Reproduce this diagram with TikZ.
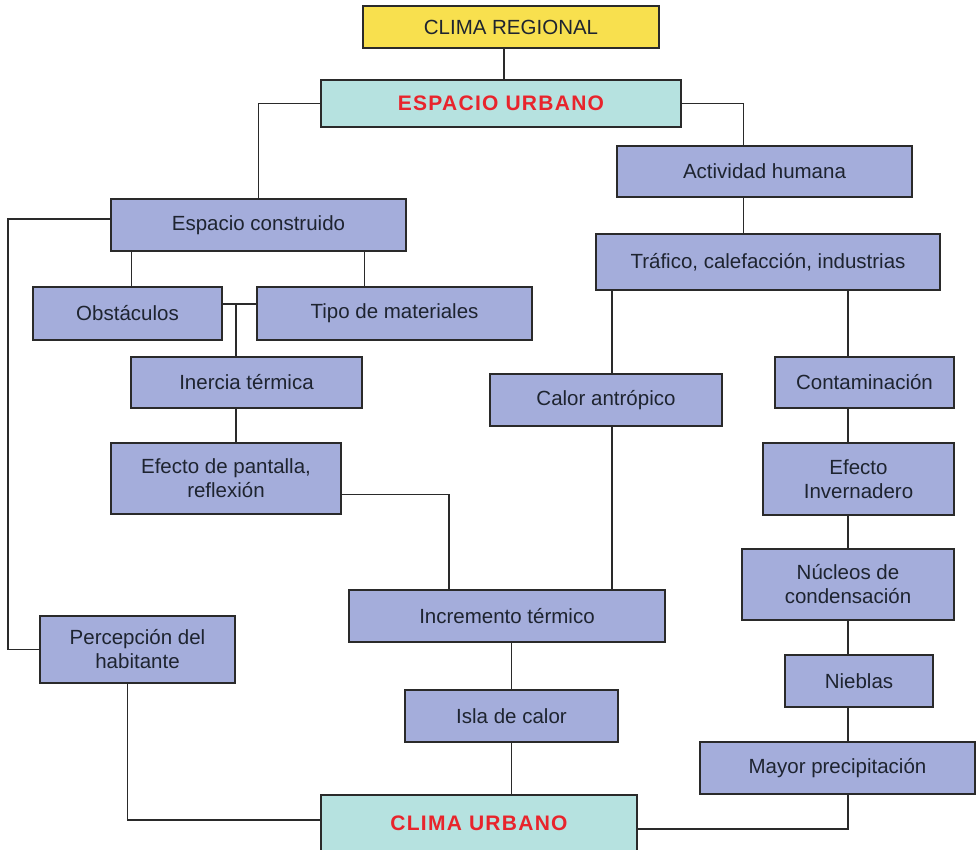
\documentclass[tikz,border=0pt]{standalone}
\usepackage{fontspec}
\setmainfont{Liberation Sans}
\usepackage{xcolor}
\usetikzlibrary{positioning, calc}
\definecolor{MapBlue}{HTML}{A4ADDB}
\definecolor{MapCyan}{HTML}{B6E2E0}
\definecolor{MapYellow}{HTML}{F8E04E}
\definecolor{MapRed}{HTML}{E8242C}
\definecolor{MapLine}{HTML}{2A2A2A}
\definecolor{MapText}{HTML}{1E2430}
\tikzset{
    box/.style={
        draw=MapLine,
        fill=#1,
        line width=1.5pt,
        text=MapText,
        font=\fontsize{20.5}{24}\selectfont,
        align=center,
        inner sep=0pt
    },
    box/.default=MapBlue,
    keybox/.style={
        box=MapCyan,
        text=MapRed,
        font=\fontsize{21}{24}\selectfont\bfseries\addfontfeature{LetterSpace=6}
    },
    link/.style={
        draw=MapLine,
        line width=1.6pt
    }
}

\begin{document}
\begin{tikzpicture}[x=1pt, y=-1pt]
        \useasboundingbox (0,0) rectangle (977,849);

        % Top of the map
        \node[box=MapYellow, minimum width=296, minimum height=42] (regional) at (511,27) {CLIMA REGIONAL};
        \node[keybox, minimum width=360, minimum height=47] (urbano) at (501,103.5) {ESPACIO URBANO};

        % Built space branch
        \node[box, minimum width=295, minimum height=52] (construido) at (258.5,225) {Espacio construido};
        \node[box, minimum width=189, minimum height=53] (obstaculos) at (127.5,313.5) {Obstáculos};
        \node[box, minimum width=275, minimum height=53] (materiales) at (394.5,313.5) {Tipo de materiales};
        \node[box, minimum width=231, minimum height=51] (inercia) at (246.5,382.5) {Inercia térmica};
        \node[box, minimum width=230, minimum height=71] (pantalla) at (226,478.5) {Efecto de pantalla,\\reflexión};
        \node[box, minimum width=195, minimum height=67] (percepcion) at (137.5,649.5) {Percepción del\\habitante};

        % Human activity branch
        \node[box, minimum width=295, minimum height=51] (actividad) at (764.5,171.5) {Actividad humana};
        \node[box, minimum width=344, minimum height=56] (trafico) at (768,262) {Tráfico, calefacción, industrias};
        \node[box, minimum width=232, minimum height=52] (calor) at (606,400) {Calor antrópico};
        \node[box, minimum width=179, minimum height=51] (contaminacion) at (864.5,382.5) {Contaminación};
        \node[box, minimum width=191, minimum height=72] (invernadero) at (858.5,479) {Efecto\\Invernadero};
        \node[box, minimum width=212, minimum height=71] (nucleos) at (848,584.5) {Núcleos de\\condensación};
        \node[box, minimum width=148, minimum height=52] (nieblas) at (859,681) {Nieblas};
        \node[box, minimum width=275, minimum height=52] (precipitacion) at (837.5,768) {Mayor precipitación};

        % Heat island and result
        \node[box, minimum width=316, minimum height=52] (incremento) at (507,616) {Incremento térmico};
        \node[box, minimum width=213, minimum height=52] (isla) at (511.5,716) {Isla de calor};
        \node[keybox, minimum width=316, minimum height=56] (climaurbano) at (479,823) {CLIMA URBANO};

        % Main links
        \draw[link] ([xshift=-7]regional.south) -- ([xshift=-7]regional.south |- urbano.north);
        \draw[link] (urbano.west) -| (construido.north);
        \draw[link] (urbano.east) -| ([xshift=-21]actividad.north);
        \draw[link] ([xshift=-21]actividad.south) -- ([xshift=-21]actividad.south |- trafico.north);

        % Built space links
        \draw[link] ([yshift=6]construido.west) -- ++(-102,0) |- (percepcion.west);
        \draw[link] ([xshift=4]obstaculos.north |- construido.south) -- ([xshift=4]obstaculos.north);
        \draw[link] ([xshift=-30]materiales.north |- construido.south) -- ([xshift=-30]materiales.north);
        \coordinate (bar) at (236,304);
        \draw[link] (obstaculos.east |- bar) -- (materiales.west |- bar);
        \draw[link] (bar) -- (bar |- inercia.north);
        \draw[link] (bar |- inercia.south) -- (bar |- pantalla.north);
        \draw[link] ([yshift=-16]pantalla.east) -| ([xshift=-58]incremento.north);

        % Human activity links
        \draw[link] ([xshift=6]calor.north |- trafico.south) -- ([xshift=6]calor.north);
        \draw[link] ([xshift=6]calor.south) -- ([xshift=6]calor.south |- incremento.north);
        \foreach \a/\b in {trafico/contaminacion, contaminacion/invernadero, invernadero/nucleos,
                           nucleos/nieblas, nieblas/precipitacion}
            \draw[link] (nucleos.north |- \a.south) -- (nucleos.north |- \b.north);
        \draw[link] (nucleos.south |- precipitacion.south) |- ([yshift=-6]climaurbano.east);

        % Heat island links
        \draw[link] (isla.north |- incremento.south) -- (isla.north);
        \draw[link] (isla.south) -- (isla.south |- climaurbano.north);
        \draw[link] ([xshift=-10]percepcion.south) |- ([yshift=3]climaurbano.west);
    \end{tikzpicture}
\end{document}
